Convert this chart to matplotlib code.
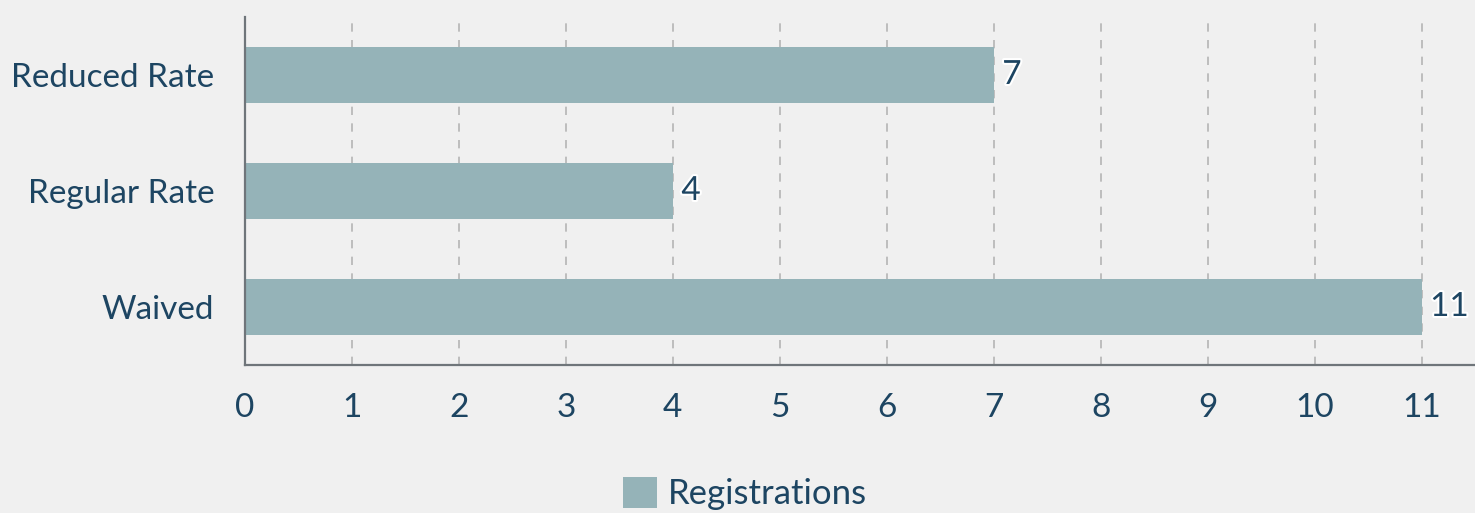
import matplotlib.pyplot as plt
import matplotlib.patheffects as pe

# data
categories = ["Reduced Rate", "Regular Rate", "Waived"]
registrations = [7, 4, 11]
series_name = "Registrations"

bar_color = "#95b3b8"
text_color = "#1d4562"
bg = "#f0f0f0"

plt.rcParams['font.family'] = ['Lato', 'DejaVu Sans']

fig = plt.figure(figsize=(14.75, 5.13), dpi=100, facecolor=bg)
ax = fig.add_axes([245 / 1475, 148 / 513, 1 - 245 / 1475, (365 - 17) / 513])
ax.set_facecolor(bg)

# top category first
ypos = list(range(len(categories)))[::-1]
bars = ax.barh(ypos, registrations, height=0.48, color=bar_color, label=series_name, zorder=2)

for y, v in zip(ypos, registrations):
    ax.text(v + 0.08, y, str(v), va='center', ha='left', fontsize=24, color=text_color, zorder=3,
            path_effects=[pe.withStroke(linewidth=3, foreground='white')])

ax.set_xlim(0, 11.5)
ax.set_ylim(-0.5, 2.5)
ax.set_xticks(range(0, 12))
ax.set_yticks(ypos)
ax.set_yticklabels(categories)
ax.tick_params(axis='both', length=0, labelsize=24, colors=text_color)
ax.tick_params(axis='y', pad=22)
ax.tick_params(axis='x', pad=20)

ax.grid(axis='x', linestyle=(0, (5, 5)), color='#b4b4b4', linewidth=1.2, zorder=1)
ax.grid(axis='y', visible=False)

for s in ['top', 'right']:
    ax.spines[s].set_visible(False)
for s in ['left', 'bottom']:
    ax.spines[s].set_color('#6f757a')
    ax.spines[s].set_linewidth(1.6)

fig.legend(loc='upper center', bbox_to_anchor=(0.505, 36 / 513), ncol=1, frameon=False,
           fontsize=25, labelcolor=text_color, handlelength=1.0, handleheight=1.0,
           handletextpad=0.3, borderpad=0, borderaxespad=0)

fig.savefig("out.png", dpi=100, facecolor=bg)
